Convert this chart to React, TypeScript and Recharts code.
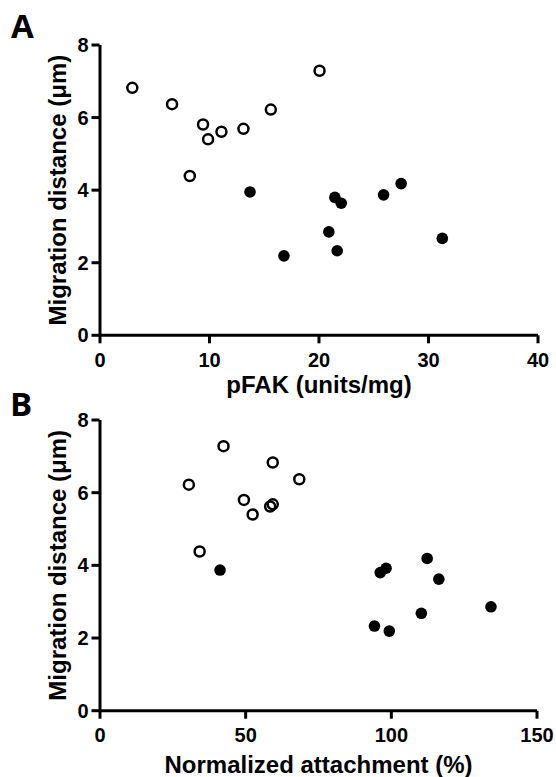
import { Label, Scatter, ScatterChart, XAxis, YAxis } from "recharts";

// panel A: migration distance vs pFAK
const pfakOpen = [2.95, 6.58, 9.41, 9.87, 11.09, 13.1, 8.2, 15.6, 20.05];
const migrationOpenA = [6.82, 6.37, 5.81, 5.4, 5.61, 5.69, 4.39, 6.22, 7.29];
const pfakFilled = [13.7, 16.8, 20.9, 21.66, 21.45, 22.03, 25.9, 27.5, 31.26];
const migrationFilledA = [3.95, 2.19, 2.85, 2.33, 3.8, 3.64, 3.87, 4.18, 2.67];

// panel B: migration distance vs normalized attachment
const attachOpen = [59.3, 68.4, 49.4, 52.4, 58.4, 59.3, 34.2, 30.5, 42.4];
const migrationOpenB = [6.83, 6.37, 5.8, 5.4, 5.62, 5.68, 4.38, 6.22, 7.28];
const attachFilled = [41.2, 96.2, 98.2, 112.3, 116.3, 94.2, 99.3, 110.3, 134.2];
const migrationFilledB = [3.87, 3.8, 3.92, 4.19, 3.62, 2.33, 2.19, 2.68, 2.86];

const yTicks = [0, 2, 4, 6, 8];
const pfakTicks = [0, 10, 20, 30, 40];
const attachTicks = [0, 50, 100, 150];

const toPoints = (xs: number[], ys: number[]) =>
	xs.map((x, i) => ({ x, y: ys[i] }));

const FONT = "'Liberation Sans', Arial, Helvetica, sans-serif";
const tickFont = { fill: "#000", fontSize: 20, fontWeight: 700, fontFamily: FONT };
const titleStyle = { fill: "#000", fontSize: 24, fontWeight: 700, fontFamily: FONT };
const AXIS_W = 3;

const OpenDot = (props: any) => (
	<circle cx={props.cx} cy={props.cy} r={5} fill="none" stroke="#000" strokeWidth={2.5} />
);
const FilledDot = (props: any) => (
	<circle cx={props.cx} cy={props.cy} r={5.8} fill="#000" />
);

// ticks drawn by hand so the tick marks get the heavy stroke
const XTick = (props: any) => {
	const { x, y, payload } = props;
	return (
		<g>
			<line x1={x} x2={x} y1={y - 9.5} y2={y - 1.5} stroke="#000" strokeWidth={AXIS_W} />
			<text x={x} y={y + 7.5} textAnchor="middle" dominantBaseline="hanging" style={tickFont}>
				{payload.value}
			</text>
		</g>
	);
};

const YTick = (props: any) => {
	const { x, y, payload } = props;
	return (
		<g>
			<line x1={x - 0.5} x2={x + 7.5} y1={y} y2={y} stroke="#000" strokeWidth={AXIS_W} />
			<text x={x - 3.5} y={y + 7} textAnchor="end" style={tickFont}>
				{payload.value}
			</text>
		</g>
	);
};

const xTitle = (text: string, baseline: number) => (props: any) => {
	const vb = props.viewBox || {};
	return (
		<text x={vb.x + vb.width / 2} y={vb.y + baseline} textAnchor="middle" style={titleStyle}>
			{text}
		</text>
	);
};

const yTitle = (text: string) => (props: any) => {
	const vb = props.viewBox || {};
	const cx = vb.x + 66;
	const cy = vb.y + vb.height / 2;
	return (
		<text x={cx} y={cy} transform={`rotate(-90 ${cx} ${cy})`} textAnchor="middle" style={titleStyle}>
			{text}
		</text>
	);
};

function Panel(props: {
	top: number;
	height: number;
	marginTop: number;
	marginRight: number;
	axisHeight: number;
	titleBaseline: number;
	xMax: number;
	xTicks: number[];
	xLabel: string;
	open: { x: number; y: number }[];
	filled: { x: number; y: number }[];
}) {
	return (
		<div style={{ position: "absolute", left: 0, top: props.top }}>
			<ScatterChart
				width={556}
				height={props.height}
				margin={{ top: props.marginTop, right: props.marginRight, bottom: 0, left: 0 }}
			>
				<XAxis
					type="number"
					dataKey="x"
					domain={[0, props.xMax]}
					ticks={props.xTicks}
					height={props.axisHeight}
					tick={<XTick />}
					tickLine={false}
					axisLine={{ stroke: "#000", strokeWidth: AXIS_W }}
					tickSize={8}
					tickMargin={1.5}
				>
					<Label content={xTitle(props.xLabel, props.titleBaseline)} />
				</XAxis>
				<YAxis
					type="number"
					dataKey="y"
					domain={[0, 8]}
					ticks={yTicks}
					width={100}
					tick={<YTick />}
					tickLine={false}
					axisLine={{ stroke: "#000", strokeWidth: AXIS_W }}
					tickSize={8}
					tickMargin={0}
				>
					<Label content={yTitle("Migration distance (μm)")} />
				</YAxis>
				<Scatter data={props.open} shape={OpenDot} isAnimationActive={false} />
				<Scatter data={props.filled} shape={FilledDot} isAnimationActive={false} />
			</ScatterChart>
		</div>
	);
}

const letterStyle: React.CSSProperties = {
	position: "absolute",
	fontFamily: "'Open Sans', sans-serif",
	fontWeight: 700,
	fontSize: 33,
	lineHeight: 1,
	color: "#000",
};

export default function App() {
	return (
		<div style={{ position: "absolute", left: 0, top: 0, width: 556, height: 777, background: "#fff" }}>
			<Panel
				top={0}
				height={400}
				marginTop={45}
				marginRight={18}
				axisHeight={64.7}
				titleBaseline={57.7}
				xMax={40}
				xTicks={pfakTicks}
				xLabel="pFAK (units/mg)"
				open={toPoints(pfakOpen, migrationOpenA)}
				filled={toPoints(pfakFilled, migrationFilledA)}
			/>
			<Panel
				top={370}
				height={407}
				marginTop={50}
				marginRight={19}
				axisHeight={66.3}
				titleBaseline={62.3}
				xMax={150}
				xTicks={attachTicks}
				xLabel="Normalized attachment (%)"
				open={toPoints(attachOpen, migrationOpenB)}
				filled={toPoints(attachFilled, migrationFilledB)}
			/>
			<div style={{ ...letterStyle, left: 11, top: 9 }}>A</div>
			<div style={{ ...letterStyle, left: 10, top: 387 }}>B</div>
		</div>
	);
}
